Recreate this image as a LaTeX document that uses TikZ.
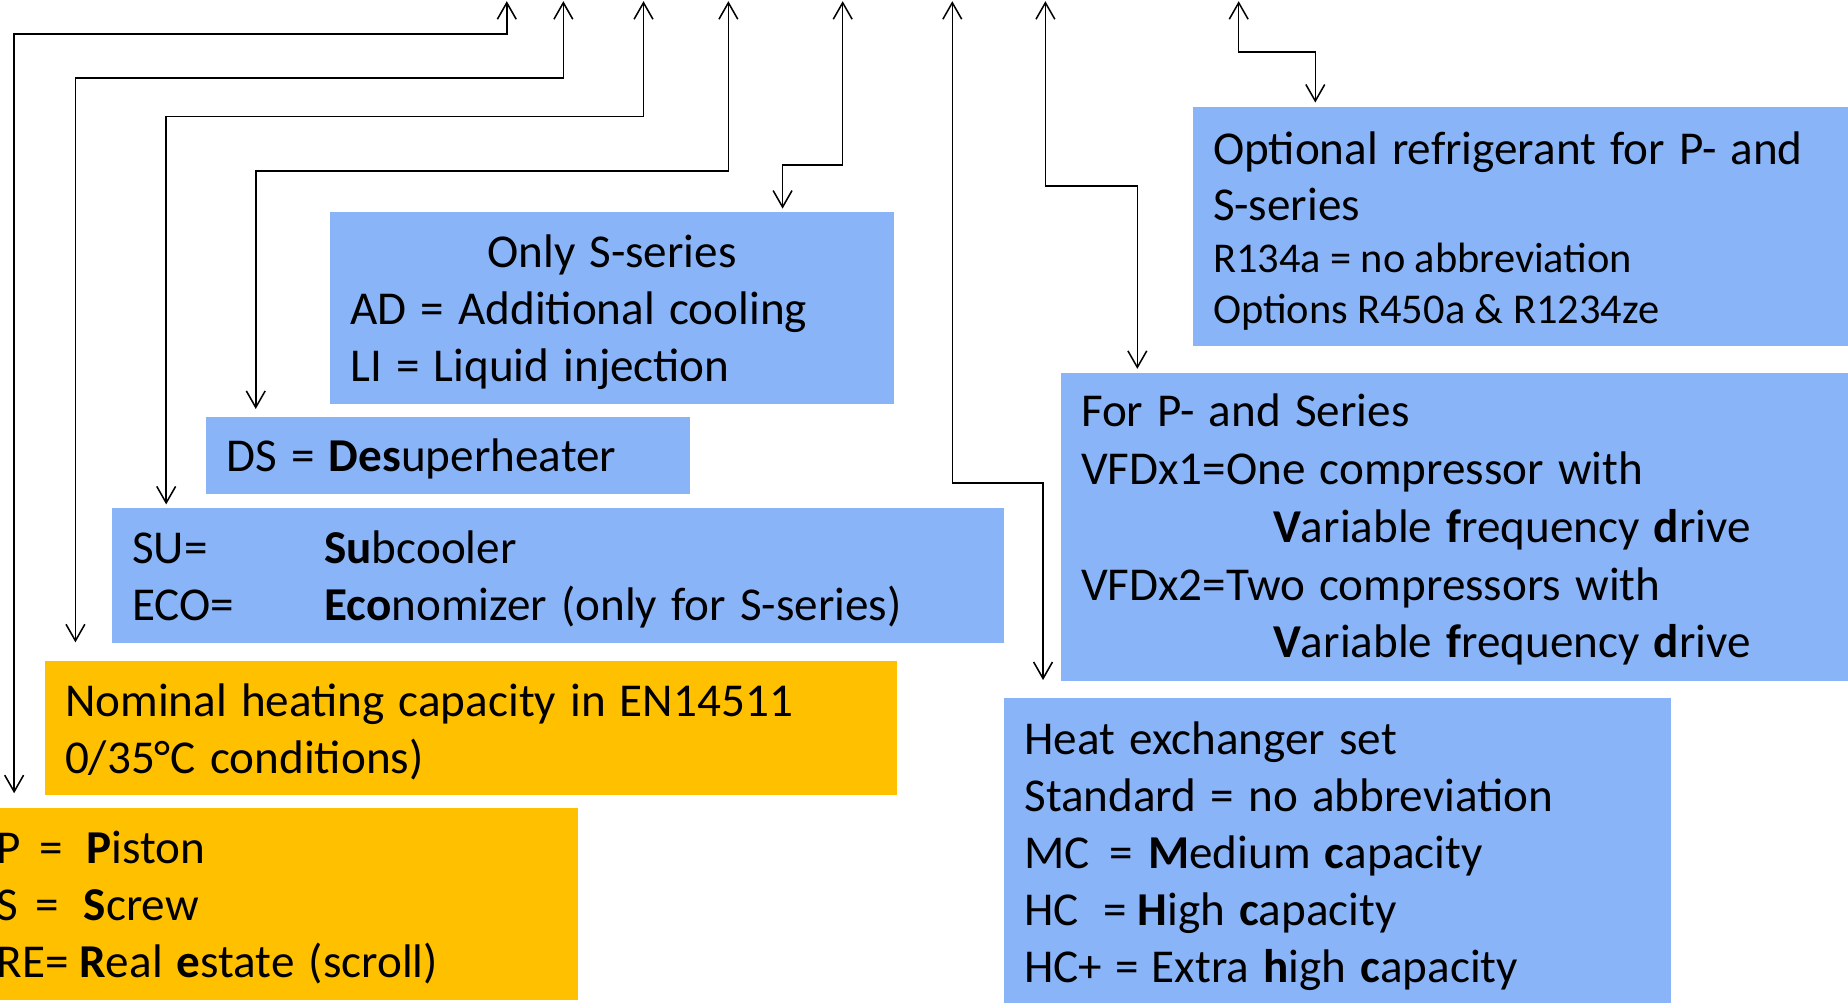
\documentclass[tikz,border=0pt]{standalone}
\usepackage{fontspec}
\setmainfont{Carlito}
\usetikzlibrary{arrows.meta}
\definecolor{boxblue}{RGB}{138,180,248}
\definecolor{boxorange}{RGB}{255,192,0}
\tikzset{
 box/.style={anchor=north west, inner xsep=17pt, inner ysep=0pt, align=left,
   font=\fontsize{40pt}{48.5pt}\selectfont, text=black,
   execute at begin node={\spaceskip=12pt\relax}},
 bluebox/.style={box, fill=boxblue},
 orangebox/.style={box, fill=boxorange},
 conn/.style={line width=1.3pt,
   {Straight Barb[length=14pt,width=16pt]}-{Straight Barb[length=14pt,width=16pt]}}
}
\newcommand{\topstrut}[1]{\rule{0pt}{#1}}
\begin{document}
\begin{tikzpicture}[x=1pt,y=-1pt]
\useasboundingbox (0,0) rectangle (1568,851);
\fill[white] (0,0) rectangle (1568,851);
% boxes
\node[bluebox, text width=444pt, minimum height=163pt] (A) at (280,180)
  {\topstrut{34pt}\makebox[444pt]{Only S-series}\\ AD = Additional cooling\\ LI = Liquid injection};
\node[bluebox, text width=376pt, minimum height=65pt] (B) at (175,354)
  {\topstrut{34pt}DS = \textbf{Des}uperheater};
\node[bluebox, text width=723pt, minimum height=114pt] (C) at (95,431)
  {\topstrut{34pt}\makebox[163pt][l]{SU=}\textbf{Su}bcooler\\ \makebox[163pt][l]{ECO=}\textbf{Eco}nomizer (only for S-series)};
\node[orangebox, text width=689pt, minimum height=113pt] (D) at (38,561)
  {\topstrut{34pt}Nominal heating capacity in EN14511\\ 0/35°C conditions)};
\node[orangebox, text width=476pt, minimum height=163pt] (E) at (-20,685)
  {\topstrut{34pt}\makebox[36pt][l]{P}\makebox[40pt][l]{=}\textbf{P}iston\\
   \makebox[33pt][l]{S}\makebox[41pt][l]{=}\textbf{S}crew\\
   RE=\hspace{9pt}\textbf{R}eal \textbf{e}state (scroll)};
\node[bluebox, text width=546pt, minimum height=202pt] (F) at (1012,91)
  {\fontsize{40pt}{47pt}\selectfont\topstrut{36pt}Optional refrigerant for P- and\\ S-series\par
   {\fontsize{36pt}{44pt}\selectfont\spaceskip=8pt\relax R134a = no abbreviation\\ Options R450a \& R1234ze\par}};
\node[bluebox, text width=646pt, minimum height=262pt] (G) at (900,316)
  {\fontsize{40pt}{49pt}\selectfont\topstrut{32pt}For P- and Series\\ VFDx1=One compressor with\\
   \hspace*{163pt}\textbf{V}ariable \textbf{f}requency \textbf{d}rive\\
   VFDx2=Two compressors with\\
   \hspace*{163pt}\textbf{V}ariable \textbf{f}requency \textbf{d}rive};
\node[bluebox, text width=532pt, minimum height=262pt] (H) at (852,592)
  {\topstrut{34pt}Heat exchanger set\\ Standard = no abbreviation\\
   \makebox[72pt][l]{MC}\makebox[33pt][l]{=}\textbf{M}edium \textbf{c}apacity\\
   \makebox[67pt][l]{HC}\makebox[29pt][l]{=}\textbf{H}igh \textbf{c}apacity\\
   \makebox[77pt][l]{HC+}\makebox[31pt][l]{=}Extra \textbf{h}igh \textbf{c}apacity};
% top free ends
\coordinate (t1) at (430,1);
\coordinate (t2) at (478,1);
\coordinate (t3) at (546,1);
\coordinate (t4) at (618,1);
\coordinate (t5) at (715,1);
\coordinate (t6) at (808,1);
\coordinate (t7) at (887,1);
\coordinate (t8) at (1051,1);
% connectors
\draw[conn] (t1) |- (12,29) -- ([yshift=12pt]E.north -| 12,0);
\draw[conn] (t2) |- (64,66) -- ([yshift=16pt]D.north -| 64,0);
\draw[conn] (t3) |- (141,99) -- ([yshift=3pt]C.north -| 141,0);
\draw[conn] (t4) |- (217,145) -- ([yshift=7pt]B.north -| 217,0);
\draw[conn] (t5) |- (664,140) -- ([yshift=3pt]A.north -| 664,0);
\draw[conn] (t6) |- (885,410) -- ([yshift=15pt]H.north -| 885,0);
\draw[conn] (t7) |- (965,158) -- ([yshift=3pt]G.north -| 965,0);
\draw[conn] (t8) |- (1116,44) -- ([yshift=4pt]F.north -| 1116,0);
\end{tikzpicture}
\end{document}
